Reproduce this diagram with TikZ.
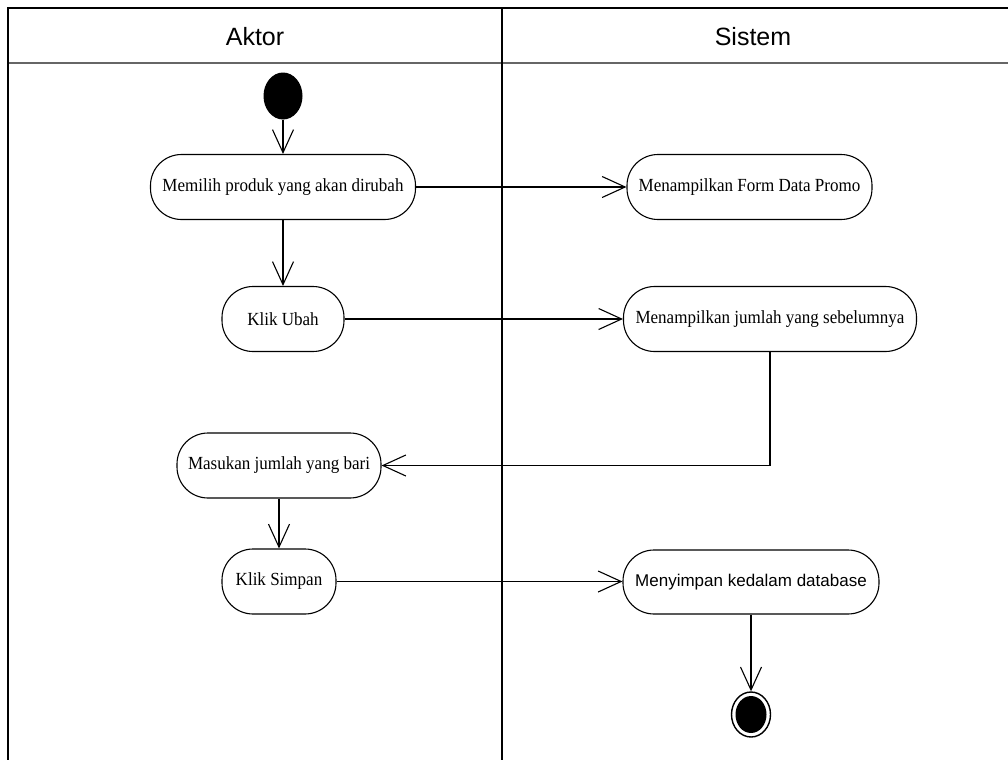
\documentclass[tikz,border=0pt]{standalone}
\usepackage{fontspec}
\setmainfont{Liberation Serif}
\newfontfamily\arialfont{Liberation Sans}
\newfontfamily\labelfont[FakeStretch=0.92]{Liberation Serif}
\usetikzlibrary{arrows.meta,shapes.geometric}
\begin{document}
\begin{tikzpicture}[x=1pt,y=-1pt,
  lane/.style={line width=1.8pt},
  act/.style={draw, line width=1.1pt, rounded corners=31pt, minimum height=65pt,
    inner sep=0pt, font=\labelfont\fontsize{18.5}{21}\selectfont},
  flow/.style={line width=1.1pt, -{Straight Barb[length=23pt,width=21pt,line width=1.1pt]}},
  head/.style={font=\arialfont\fontsize{25}{28}\selectfont}]
\useasboundingbox (0,0) rectangle (1008,760);
% swimlane frame
\draw[lane] (7,8) -- (1008,8);
\draw[lane, draw=black!60] (7,63) -- (1008,63);
\draw[lane] (8,8) -- (8,760);
\draw[lane] (502,8) -- (502,760);
\node[head] (hA) at (255,37) {Aktor};
\node[head] (hS) at (753,37) {Sistem};
% start and end states
\node[ellipse, fill=black, minimum width=39pt, minimum height=47pt, inner sep=0pt] (start) at (283,96) {};
\node[ellipse, draw, line width=1.4pt, minimum width=39pt, minimum height=45pt, inner sep=0pt] (end) at (751,714.5) {};
\node[ellipse, fill=black, minimum width=31pt, minimum height=37pt, inner sep=0pt] (endcore) at (end.center) {};
% activities
\node[act, minimum width=265pt] (m1) at (283,187) {Memilih produk yang akan dirubah};
\node[act, minimum width=245pt] (m2) at (749.5,187) {Menampilkan Form Data Promo};
\node[act, minimum width=122pt] (m3) at (283,319) {Klik Ubah};
\node[act, minimum width=293pt] (m4) at (770,319) {Menampilkan jumlah yang sebelumnya};
\node[act, minimum width=204pt] (m5) at (279,465.5) {Masukan jumlah yang bari};
\node[act, minimum width=114pt] (m6) at (279,581.5) {Klik Simpan};
\node[act, minimum width=256pt, minimum height=64pt, font=\arialfont\fontsize{17}{20}\selectfont] (m7) at (751,582) {Menyimpan kedalam database};
% flows
\draw[flow] (start) -- (m1);
\draw[flow] (m1) -- (m2);
\draw[flow] (m1) -- (m3);
\draw[flow] (m3) -- (m4);
\draw[flow] (m4.south) |- (m5.east);
\draw[flow] (m5) -- (m6);
\draw[flow] (m6.east) -- (m7.west |- m6.east);
\draw[flow] (m7) -- (end);
\end{tikzpicture}
\end{document}
